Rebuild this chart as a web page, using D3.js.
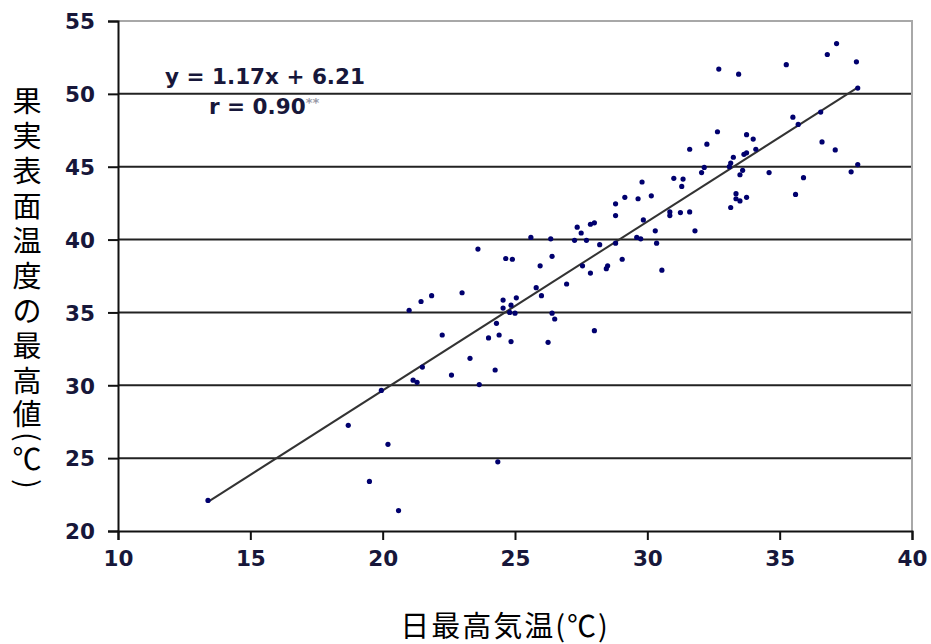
<!DOCTYPE html>
<html>
<head>
  <meta charset="utf-8">
  <title>日最高気温と果実表面温度</title>
  <script src="https://d3js.org/d3.v7.min.js"></script>
  <style>
    body { margin: 0; background: #fff; }
  </style>
</head>
<body>
<div class="page"></div>
<script>
// 日最高気温 (x) と 果実表面温度の最高値 (y)
var airTemp = [
  13.4, 18.7, 20.2, 19.5, 20.6, 24.35, 19.95, 21.0, 21.45, 21.85,
  23.0, 22.25, 21.5, 21.15, 21.3, 22.6, 23.3, 23.65, 24.25, 24.0,
  24.4, 24.85, 24.3, 24.55, 24.55, 24.85, 25.05, 24.8, 25.0, 25.95,
  25.8, 26.0, 26.95, 27.55, 27.85, 28.45, 28.5, 29.05, 30.55, 26.4,
  26.5, 28.0, 26.25, 32.7, 33.45, 35.25, 36.8, 37.15, 37.9, 37.95,
  35.5, 35.7, 36.55, 36.6, 37.1, 37.95, 37.7, 35.9, 35.6, 34.6,
  32.65, 32.25, 31.6, 33.75, 34.0, 34.1, 33.65, 33.75, 33.25, 33.15,
  33.1, 33.6, 33.5, 32.15, 32.05, 31.0, 31.35, 31.3, 29.8, 30.15,
  29.65, 29.15, 28.8, 28.8, 30.85, 30.85, 31.25, 31.6, 31.8, 29.85,
  30.3, 30.35, 33.35, 33.35, 33.5, 33.75, 33.15, 27.35, 27.5, 27.85,
  28.0, 27.25, 27.7, 28.2, 28.8, 29.6, 29.75, 26.4, 25.6, 26.35,
  24.65, 24.9, 23.6
];
var fruitTemp = [
  22.1, 27.25, 25.95, 23.4, 21.4, 24.75, 29.65, 35.15, 35.75, 36.15,
  36.35, 33.45, 31.25, 30.35, 30.2, 30.7, 31.85, 30.05, 31.05, 33.25,
  33.45, 33.0, 34.25, 35.85, 35.3, 35.5, 36.0, 35.0, 34.95, 38.2,
  36.7, 36.15, 36.95, 38.2, 37.7, 38.0, 38.2, 38.65, 37.9, 34.95,
  34.55, 33.75, 32.95, 51.7, 51.35, 52.0, 52.7, 53.45, 52.2, 50.4,
  48.4, 47.9, 48.75, 46.7, 46.15, 45.15, 44.65, 44.25, 43.1, 44.6,
  47.4, 46.55, 46.2, 47.2, 46.9, 46.2, 45.85, 45.95, 45.65, 45.25,
  45.0, 44.75, 44.45, 44.95, 44.6, 44.2, 44.15, 43.65, 43.95, 43.0,
  42.8, 42.9, 42.45, 41.65, 41.9, 41.65, 41.85, 41.9, 40.6, 41.35,
  40.6, 39.75, 43.15, 42.8, 42.65, 42.9, 42.2, 40.85, 40.45, 41.05,
  41.15, 39.95, 39.95, 39.65, 39.75, 40.15, 40.05, 38.85, 40.15, 40.05,
  38.7, 38.65, 39.35
];
var trendX = [13.4, 38.0];
var trendY = [22.0, 50.5];
var xTicks = [10, 15, 20, 25, 30, 35, 40];
var yTicks = [20, 25, 30, 35, 40, 45, 50, 55];
var yLabelChars = ["果", "実", "表", "面", "温", "度", "の", "最", "高", "値", "(", "℃", ")"];

var width = 931;
var height = 644;
var plotLeft = 118, plotRight = 912, plotTop = 21, plotBottom = 531;
var tickFont = "'DejaVu Sans', sans-serif";
var cjkFont = "'Noto Sans CJK JP', sans-serif";

var svg = d3.select(".page")
    .append("svg")
    .attr("width", width)
    .attr("height", height);

var x = d3.scaleLinear()
    .domain([10, 40])
    .range([plotLeft, plotRight]);

var y = d3.scaleLinear()
    .domain([20, 55])
    .range([plotBottom, plotTop]);

// gridlines
svg.append("g")
   .selectAll("line")
   .data(yTicks.filter(function(d) { return d > 20 && d < 55; }))
   .enter()
   .append("line")
   .attr("x1", plotLeft)
   .attr("x2", plotRight)
   .attr("y1", function(d) { return y(d); })
   .attr("y2", function(d) { return y(d); })
   .attr("stroke", "#222")
   .attr("stroke-width", 2);

// plot border top / right
svg.append("path")
   .attr("d", "M" + plotLeft + "," + y(55) + "H" + x(40) + "V" + y(20))
   .attr("fill", "none")
   .attr("stroke", "#a8a8a8")
   .attr("stroke-width", 2);

var yAxis = svg.append("g")
    .attr("transform", "translate(" + plotLeft + ",0)")
    .call(d3.axisLeft(y).tickValues(yTicks).tickSize(10).tickPadding(13));

var xAxis = svg.append("g")
    .attr("transform", "translate(0," + plotBottom + ")")
    .call(d3.axisBottom(x).tickValues(xTicks).tickSize(9).tickPadding(11));

[yAxis, xAxis].forEach(function(ax) {
  ax.selectAll("path, line")
    .attr("stroke", "#111")
    .attr("stroke-width", 2);
  ax.selectAll("text")
    .attr("fill", "#17173a")
    .style("font-family", tickFont)
    .style("font-weight", "bold")
    .style("font-size", "21.5px");
});
yAxis.selectAll("text").attr("dy", "0.36em");

// regression line
svg.append("line")
   .attr("x1", x(trendX[0]))
   .attr("y1", y(trendY[0]))
   .attr("x2", x(trendX[1]))
   .attr("y2", y(trendY[1]))
   .attr("stroke", "#333")
   .attr("stroke-width", 2);

svg.append("g")
   .selectAll("circle")
   .data(airTemp)
   .enter()
   .append("circle")
   .attr("cx", function(d) { return x(d); })
   .attr("cy", function(d, i) { return y(fruitTemp[i]); })
   .attr("r", 2.6)
   .attr("fill", "#00006e");

svg.append("text")
   .attr("x", 165)
   .attr("y", 84)
   .style("font-family", tickFont)
   .style("font-weight", "bold")
   .style("font-size", "21.5px")
   .attr("fill", "#17173a")
   .text("y = 1.17x + 6.21");

var rText = svg.append("text")
   .attr("x", 209)
   .attr("y", 114)
   .style("font-family", tickFont)
   .style("font-weight", "bold")
   .style("font-size", "21.5px")
   .attr("fill", "#17173a")
   .text("r = 0.90");
rText.append("tspan")
   .attr("dy", -7)
   .attr("fill", "#9a9aa8")
   .style("font-size", "13px")
   .text("**");

// axis titles
svg.append("text")
   .attr("x", 505)
   .attr("y", 637)
   .attr("text-anchor", "middle")
   .style("font-family", cjkFont)
   .style("font-size", "29px")
   .style("letter-spacing", "2px")
   .attr("fill", "#000")
   .text("日最高気温(℃)");

var yLabelPos = [102, 137, 172, 207, 242, 277, 312, 347, 382, 415, 437, 460, 484];
svg.append("g")
   .selectAll("text")
   .data(yLabelChars)
   .enter()
   .append("text")
   .attr("transform", function(d, i) {
     var t = "translate(27," + yLabelPos[i] + ")";
     return (d === "(" || d === ")") ? t + " rotate(90)" : t;
   })
   .attr("dy", "0.36em")
   .attr("text-anchor", "middle")
   .style("font-family", cjkFont)
   .style("font-size", "29px")
   .attr("fill", "#000")
   .text(function(d) { return d; });
</script>
</body>
</html>
